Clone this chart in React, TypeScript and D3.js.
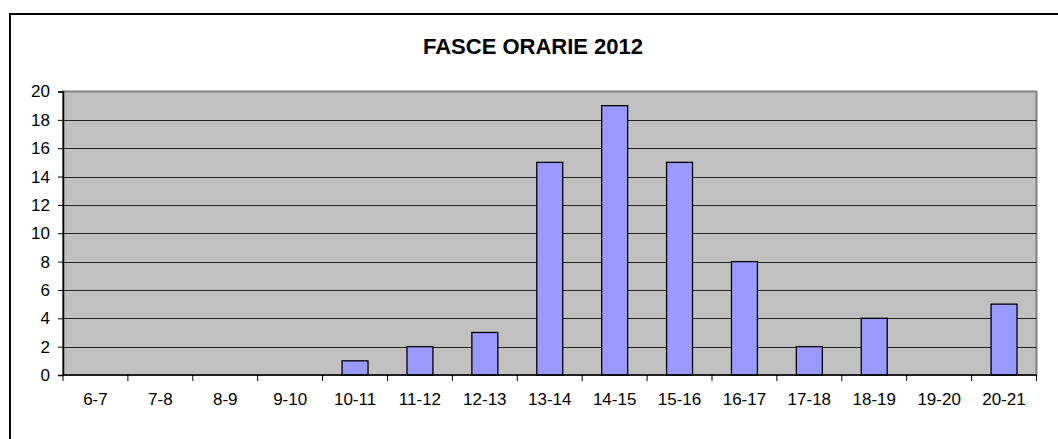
import { useRef, useEffect } from "react";
import * as d3 from "d3";

const categories = ["6-7", "7-8", "8-9", "9-10", "10-11", "11-12", "12-13", "13-14", "14-15", "15-16", "16-17", "17-18", "18-19", "19-20", "20-21"];
const values = [0, 0, 0, 0, 1, 2, 3, 15, 19, 15, 8, 2, 4, 0, 5];
const yTicks = [0, 2, 4, 6, 8, 10, 12, 14, 16, 18, 20];
const title = "FASCE ORARIE 2012";

const App = () => {
  const ref = useRef<SVGSVGElement>(null);

  useEffect(() => {
    document.body.style.margin = "0";
    const svg = d3.select(ref.current);
    svg.selectAll("*").remove();

    const left = 63, right = 1036.5, top = 91.5, bottom = 375;
    const font = "Arial, 'Liberation Sans', sans-serif";

    // cornice esterna
    svg.append("rect")
      .attr("x", 10).attr("y", 14)
      .attr("width", 1100).attr("height", 500)
      .attr("fill", "#fff").attr("stroke", "#000").attr("stroke-width", 2);

    const x = d3.scaleBand().domain(categories).range([left, right]).paddingInner(0.6).paddingOuter(0.3);
    const y = d3.scaleLinear().domain([0, 20]).range([bottom, top]);

    // area del grafico
    svg.append("rect")
      .attr("x", left).attr("y", top)
      .attr("width", right - left).attr("height", bottom - top)
      .attr("fill", "#c0c0c0").attr("stroke", "#808080").attr("stroke-width", 2);

    // griglia
    svg.append("g").selectAll("line").data(yTicks.slice(1, -1)).join("line")
      .attr("x1", left).attr("x2", right)
      .attr("y1", (d) => Math.round(y(d)) + 0.5).attr("y2", (d) => Math.round(y(d)) + 0.5)
      .attr("stroke", "#222").attr("stroke-width", 1);

    // barre
    svg.append("g").selectAll("rect").data(values).join("rect")
      .attr("x", (_, i) => x(categories[i])!)
      .attr("y", (d) => y(d))
      .attr("width", x.bandwidth())
      .attr("height", (d) => bottom - y(d))
      .attr("fill", "#9999ff").attr("stroke", "#000").attr("stroke-width", 1.3)
      .attr("display", (d) => (d === 0 ? "none" : null));

    // asse Y
    const yAxis = svg.append("g")
      .attr("transform", `translate(${left},0)`)
      .call(d3.axisLeft(y).tickValues(yTicks).tickSize(5).tickPadding(8));
    yAxis.select(".domain").attr("stroke", "#000").attr("stroke-width", 1.5);
    yAxis.selectAll("line").attr("stroke", "#000");
    yAxis.selectAll("text").attr("font-family", font).attr("font-size", 17).attr("fill", "#000");

    // asse X
    const boundaries = d3.range(categories.length + 1).map((i) => left + i * ((right - left) / categories.length));
    const xAxis = svg.append("g").attr("transform", `translate(0,${bottom})`);
    xAxis.append("line").attr("x1", left).attr("x2", right).attr("stroke", "#000").attr("stroke-width", 1.5);
    xAxis.selectAll("line.t").data(boundaries).join("line").attr("class", "t")
      .attr("x1", (d) => d).attr("x2", (d) => d).attr("y1", 0).attr("y2", 6)
      .attr("stroke", "#000");
    xAxis.selectAll("text").data(categories).join("text")
      .attr("x", (d) => x(d)! + x.bandwidth() / 2)
      .attr("y", 30)
      .attr("text-anchor", "middle")
      .attr("font-family", font).attr("font-size", 17).attr("fill", "#000")
      .text((d) => d);

    // titolo
    svg.append("text")
      .attr("x", 533).attr("y", 54)
      .attr("text-anchor", "middle")
      .attr("font-family", font).attr("font-size", 22).attr("font-weight", "bold")
      .text(title);
  }, []);

  return <svg ref={ref} width={1058} height={439} style={{ display: "block" }} />;
};

export default App;
